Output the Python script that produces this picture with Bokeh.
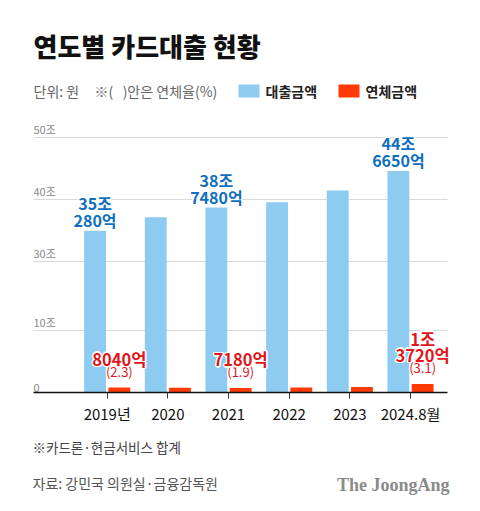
from bokeh.plotting import figure
from bokeh.models import Range1d, FixedTicker, Grid, Label, ColumnDataSource
from bokeh.transform import dodge
from bokeh.core.properties import value
from bokeh.embed import file_html
from bokeh.resources import INLINE

# ---------------- data ----------------
YEARS = ["2019년", "2020", "2021", "2022", "2023", "2024.8월"]
LOAN = [35.028, 37.2, 38.748, 39.6, 41.5, 44.665]      # 대출금액 (조원)
OVERDUE = [0.804, 0.78, 0.718, 0.82, 0.9, 1.372]       # 연체금액 (조원)
RATE = [2.3, None, 1.9, None, None, 3.1]               # 연체율 (%)
LABELED = [0, 2, 5]                                    # years with value labels
Y_TICKS = [0, 10, 30, 40, 50]
Y_TICK_LABELS = ["0", "10조", "30조", "40조", "50조"]

TITLE = "연도별 카드대출 현황"
UNIT = "단위: 원"
UNIT_NOTE = "※(\u00a0\u00a0\u00a0)안은 연체율(%)"
LEG_LOAN = "대출금액"
LEG_OVER = "연체금액"
NOTE = "※카드론·현금서비스 합계"
SOURCE = "자료: 강민국 의원실·금융감독원"
LOGO = "The JoongAng"

# ---------------- style ----------------
FONT = "Noto Sans CJK KR"
TITLE_FONT = "'Noto Sans CJK KR Black', 'Noto Sans CJK KR'"
BLUE_BAR = "#8ecbf0"
RED_BAR = "#ff3a06"
BLUE_TXT = "#0f6fbd"
RED_TXT = "#e2141a"

W, H = 480, 511
BASE_Y = 392          # canvas y of the zero line
PX_PER_UNIT = 6.2
TICK0 = 106.7         # canvas x of first category
STEP = 60.66          # px per category
PLOT_L, PLOT_R = 33, 447
BREAK_LO, BREAK_HI, BREAK_SPAN = 10, 30, 11.08   # broken axis between 10 and 30


def disp(v):
    """map a value (조원) to the broken display axis"""
    if v <= BREAK_LO:
        return v
    if v <= BREAK_HI:
        return BREAK_LO + (v - BREAK_LO) / (BREAK_HI - BREAK_LO) * BREAK_SPAN
    return BREAK_LO + BREAK_SPAN + (v - BREAK_HI)


def split_amount(v):
    """-> (조 part, 억 part) as label lines"""
    jo = int(v)
    eok = int(round((v - jo) * 10000))
    return (f"{jo}조" if jo else ""), f"{eok}억"


def px(x_canvas):
    return (x_canvas - TICK0) / STEP


def py(y_canvas):
    return (BASE_Y - y_canvas) / PX_PER_UNIT


p = figure(width=W, height=H, x_range=Range1d(px(0), px(W)),
           y_range=Range1d(py(H), py(0)),
           output_backend="svg", toolbar_location=None, y_axis_location=None,
           min_border_left=0, min_border_right=0, min_border_top=0,
           min_border_bottom=0)
p.outline_line_color = None
p.background_fill_color = "white"
p.border_fill_color = "white"
p.xgrid.visible = False
p.ygrid.visible = False

grid_ticks = [disp(t) for t in Y_TICKS[1:]]
if "cross_bounds" in Grid.properties():
    grid = Grid(dimension=1, ticker=FixedTicker(ticks=grid_ticks),
                grid_line_color="#d9d9d9", grid_line_width=1,
                cross_bounds=(px(PLOT_L), px(PLOT_R)))
    p.add_layout(grid)
else:
    p.segment(x0=[px(PLOT_L)] * len(grid_ticks), x1=[px(PLOT_R)] * len(grid_ticks),
              y0=grid_ticks, y1=grid_ticks, line_color="#d9d9d9", line_width=1)

idx = list(range(len(YEARS)))
src = ColumnDataSource(dict(x=idx, loan=[disp(v) for v in LOAN],
                            over=[disp(v) for v in OVERDUE]))

p.vbar(x=dodge("x", -0.2, range=p.x_range), top="loan", width=0.36, source=src,
       fill_color=BLUE_BAR, line_color=None)
p.vbar(x=dodge("x", 0.2, range=p.x_range), top="over", width=0.36, source=src,
       fill_color=RED_BAR, line_color=None)

# y tick labels (inside plot, above the grid lines)
p.text(x=[px(PLOT_L)] * len(Y_TICKS), y=[disp(t) for t in Y_TICKS], text=Y_TICK_LABELS,
       text_font=value(FONT), text_font_size="11px", text_color="#8a8a8a",
       text_align="left", text_baseline="bottom", y_offset=-1)

# value labels
loan_parts = [split_amount(LOAN[i]) for i in LABELED]
over_parts = [split_amount(OVERDUE[i]) for i in LABELED]
lsrc = ColumnDataSource(dict(
    x=list(LABELED),
    loan=[disp(LOAN[i]) for i in LABELED],
    over=[disp(OVERDUE[i]) for i in LABELED],
    loan1=[a for a, b in loan_parts], loan2=[b for a, b in loan_parts],
    over1=[a for a, b in over_parts], over2=[b for a, b in over_parts],
    rate_txt=[f"({RATE[i]})" for i in LABELED]))

HALO = [(-1.5, 0), (1.5, 0), (0, -1.5), (0, 1.5), (-1, -1), (1, -1), (-1, 1), (1, 1)]


def halo_text(xo, yfield, tfield, color, size, bold, yoff):
    common = dict(x=dodge("x", xo, range=p.x_range), y=yfield, text=tfield, source=lsrc,
                  text_font=value(FONT), text_font_style="bold" if bold else "normal",
                  text_font_size=size, text_align="center", text_baseline="alphabetic")
    for dx, dy in HALO:
        p.text(text_color="white", x_offset=dx, y_offset=yoff + dy, **common)
    p.text(text_color=color, y_offset=yoff, **common)


halo_text(-0.2, "loan", "loan2", BLUE_TXT, "16px", True, -10.5)
halo_text(-0.2, "loan", "loan1", BLUE_TXT, "16px", True, -27.5)
halo_text(0.2, "over", "rate_txt", RED_TXT, "13px", False, -16.5)
halo_text(0.2, "over", "over2", RED_TXT, "16.5px", True, -29)
halo_text(0.2, "over", "over1", RED_TXT, "16.5px", True, -45)

# x axis, drawn at the zero line
ax = p.xaxis[0]
ax.fixed_location = 0
ax.bounds = (px(PLOT_L), px(PLOT_R))
ax.ticker = FixedTicker(ticks=idx)
ax.major_label_overrides = {i: YEARS[i] for i in idx}
ax.major_label_text_font = FONT
ax.major_label_text_font_size = "15px"
ax.major_label_text_color = "#111111"
ax.major_label_standoff = 4
ax.axis_line_color = "#111111"
ax.axis_line_width = 1.5
ax.major_tick_line_color = "#333333"
ax.major_tick_in = 0
ax.major_tick_out = 6
ax.minor_tick_line_color = None

# header: title, unit, legend
p.add_layout(Label(x=px(33), y=py(45), text=TITLE, text_font=TITLE_FONT,
                   text_font_style="bold", text_font_size="26px", text_color="#111111",
                   text_baseline="middle"))
p.add_layout(Label(x=px(33), y=py(90.5), text=UNIT, text_font=FONT,
                   text_font_size="14px", text_color="#666666", text_baseline="middle"))
p.add_layout(Label(x=px(94), y=py(90.5), text=UNIT_NOTE, text_font=FONT,
                   text_font_size="14px", text_color="#666666", text_baseline="middle"))
p.rect(x=[px(248.5), px(348.5)], y=[py(90.5)] * 2, width=21, height=13,
       width_units="screen", height_units="screen",
       fill_color=[BLUE_BAR, RED_BAR], line_color=None)
p.add_layout(Label(x=px(265), y=py(90.5), text=LEG_LOAN, text_font=FONT,
                   text_font_size="14px", text_font_style="bold", text_color="#222222",
                   text_baseline="middle"))
p.add_layout(Label(x=px(365), y=py(90.5), text=LEG_OVER, text_font=FONT,
                   text_font_size="14px", text_font_style="bold", text_color="#222222",
                   text_baseline="middle"))

# footer
p.add_layout(Label(x=px(32), y=py(446), text=NOTE, text_font=FONT,
                   text_font_size="13.5px", text_color="#444444", text_baseline="middle"))
p.add_layout(Label(x=px(32), y=py(482), text=SOURCE, text_font=FONT,
                   text_font_size="14px", text_color="#555555", text_baseline="middle"))
p.add_layout(Label(x=px(449), y=py(484), text=LOGO, text_font="Liberation Serif",
                   text_font_style="bold", text_font_size="18px", text_color="#8a8a8a",
                   text_align="right", text_baseline="middle"))

open("out.html", "w").write(file_html(p, INLINE))
